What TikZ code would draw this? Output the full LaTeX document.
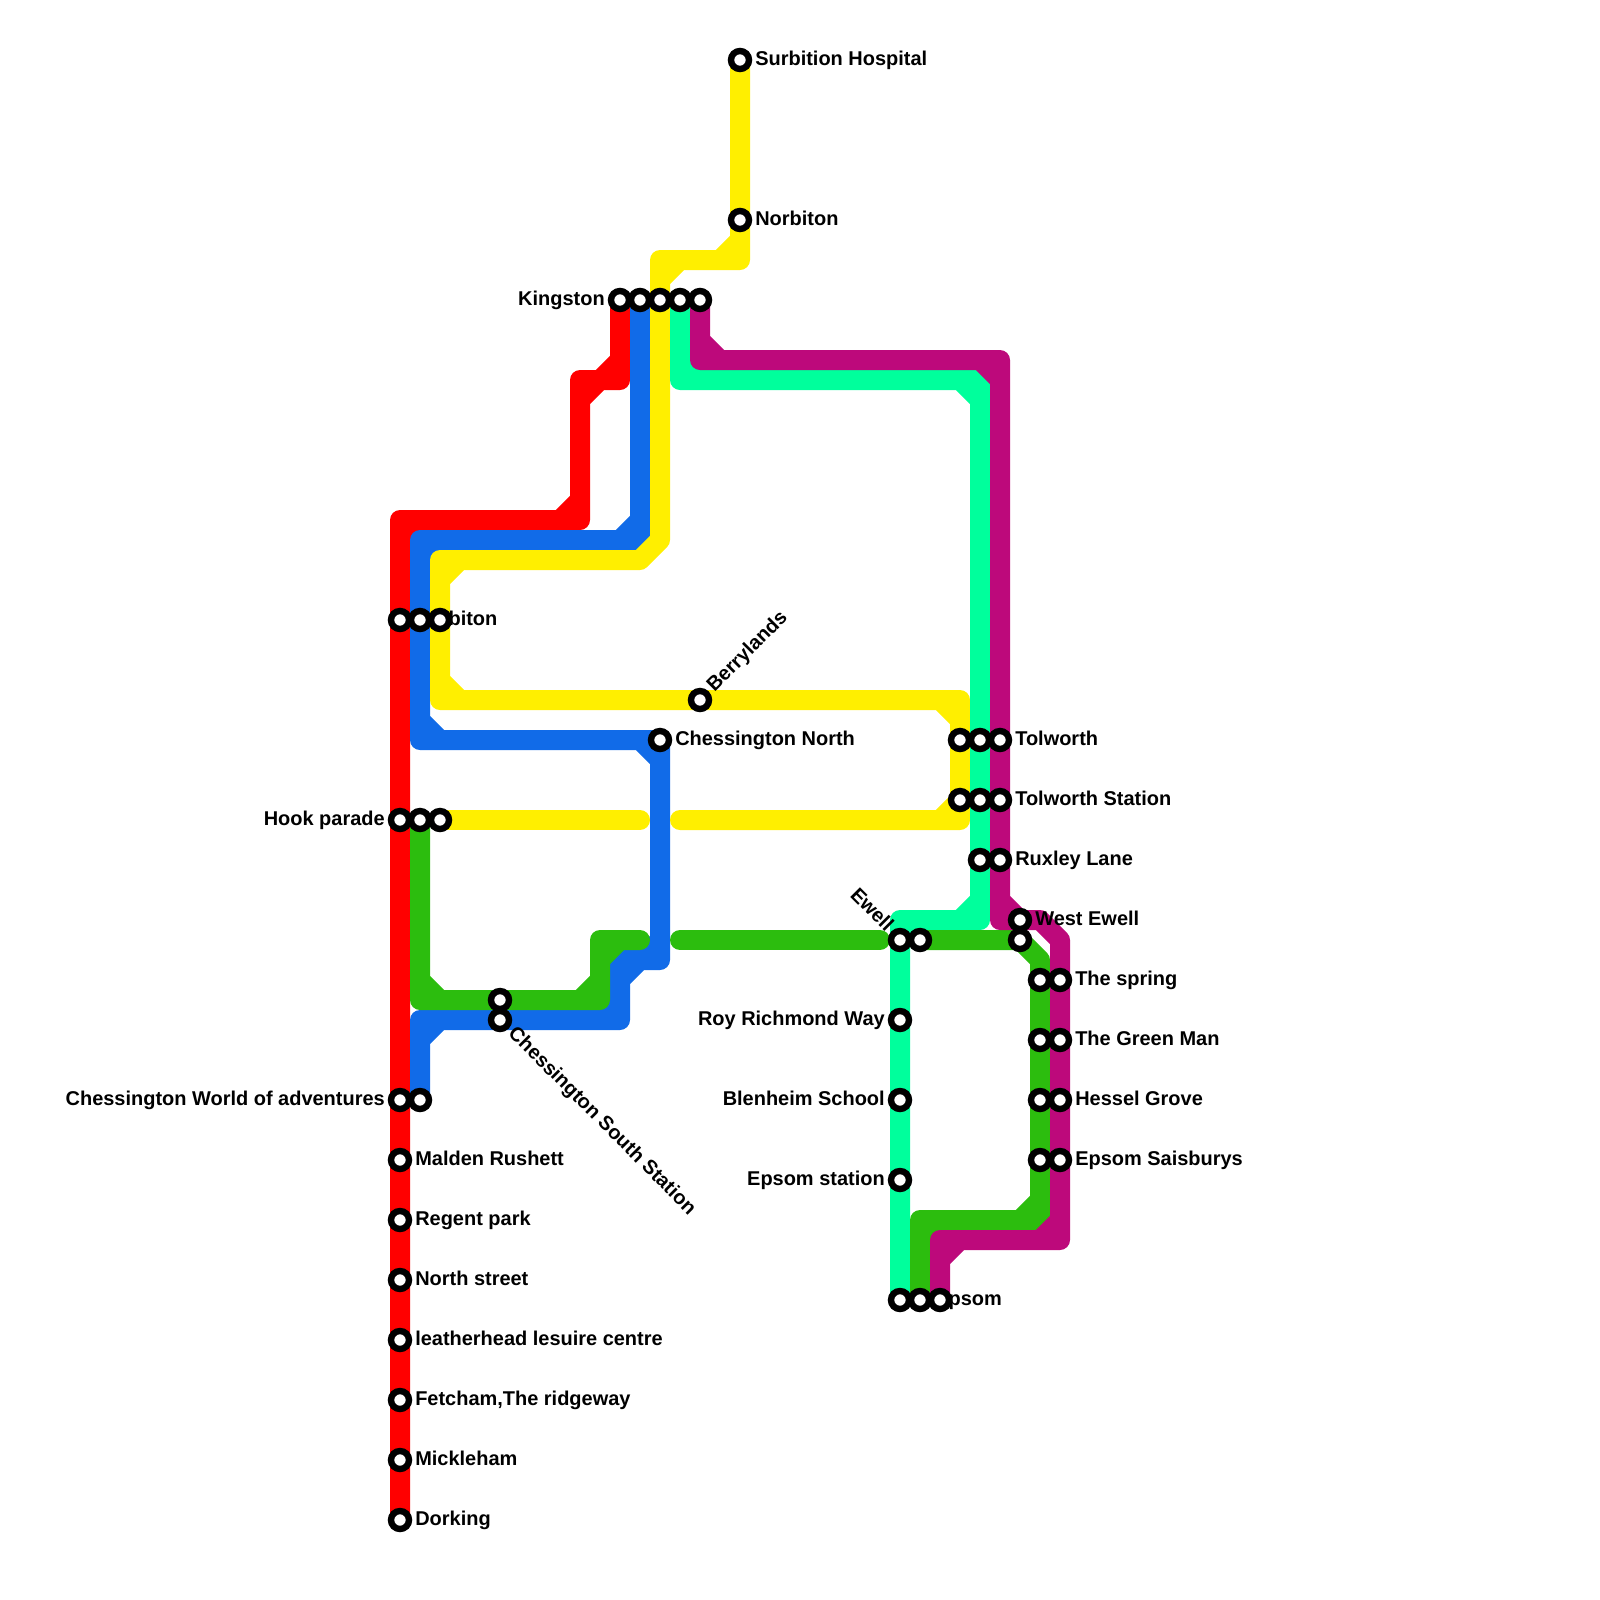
\documentclass[tikz,border=0pt]{standalone}
\usepackage{fontspec}
\setmainfont{Liberation Sans}
\usetikzlibrary{positioning}
\definecolor{redline}{RGB}{255,0,0}
\definecolor{blueline}{RGB}{17,107,232}
\definecolor{yellowline}{RGB}{255,239,0}
\definecolor{mintline}{RGB}{0,255,156}
\definecolor{greenline}{RGB}{44,189,14}
\definecolor{plumline}{RGB}{189,9,123}
\pgfdeclarelayer{lines}
\pgfdeclarelayer{labels}
\pgfsetlayers{lines,labels,main}
\tikzset{
  metro/.style={line width=0.5cm, line cap=round, line join=round},
  stn/.style={circle, draw=black, fill=white, line width=0.16cm, minimum size=0.45cm, inner sep=0pt},
  lbl/.style={font=\fontsize{14.2}{16}\selectfont\bfseries, text=black, inner sep=0pt, text height=0.425cm, text depth=0.175cm}
}
\begin{document}
\begin{tikzpicture}[x=0.5cm, y=-0.5cm]
  \useasboundingbox (0,0) rectangle (80,80);

  % Stations
  \foreach \nm/\x/\y in {
    surbHosp/37/3, norbiton/37/11,
    kingstonR/31/15, kingstonB/32/15, kingstonY/33/15, kingstonM/34/15, kingstonP/35/15,
    surbitonR/20/31, surbitonB/21/31, surbitonY/22/31,
    berrylands/35/35, chessNorth/33/37,
    tolworthY/48/37, tolworthM/49/37, tolworthP/50/37,
    tolstatY/48/40, tolstatM/49/40, tolstatP/50/40,
    hookR/20/41, hookG/21/41, hookY/22/41,
    ruxleyM/49/43, ruxleyP/50/43,
    wewellP/51/46, wewellG/51/47, ewellM/45/47, ewellG/46/47,
    springG/52/49, springP/53/49, greenmanG/52/52, greenmanP/53/52,
    southG/25/50, southB/25/51, royrich/45/51,
    worldR/20/55, worldB/21/55, blenheim/45/55, hesselG/52/55, hesselP/53/55,
    malden/20/58, saisG/52/58, saisP/53/58, epsomStat/45/59,
    regent/20/61, north/20/64,
    epsomM/45/65, epsomG/46/65, epsomP/47/65,
    leather/20/67, fetcham/20/70, mickle/20/73, dorking/20/76}{
    \node[stn] (\nm) at (\x,\y) {};
  }

  \begin{pgfonlayer}{labels}
    % Labels, right of the station
    \foreach \nm/\lab in {
      surbHosp/Surbition Hospital, norbiton/Norbiton, surbitonR/Surbiton,
      chessNorth/Chessington North, tolworthP/Tolworth, tolstatP/Tolworth Station,
      ruxleyP/Ruxley Lane, wewellP/West Ewell, springP/The spring,
      greenmanP/The Green Man, hesselP/Hessel Grove, saisP/Epsom Saisburys,
      epsomG/Epsom, malden/Malden Rushett, regent/Regent park, north/North street,
      leather/leatherhead lesuire centre, fetcham/{Fetcham,The ridgeway},
      mickle/Mickleham, dorking/Dorking}{
      \node[lbl, right=0.07cm of \nm] (\nm-lab) {\lab};
    }
    % Labels, left of the station
    \foreach \nm/\lab in {
      kingstonR/Kingston, hookR/Hook parade, worldR/Chessington World of adventures,
      royrich/Roy Richmond Way, blenheim/Blenheim School, epsomStat/Epsom station}{
      \node[lbl, left=0.07cm of \nm] (\nm-lab) {\lab};
    }
    % Slanted ones
    \node[lbl, rotate=45, anchor=west] (berrylands-lab)
      at ([shift={(0.27cm,0.27cm)}]berrylands.center) {Berrylands};
    \node[lbl, rotate=-45, anchor=west] (southB-lab)
      at ([shift={(0.27cm,-0.27cm)}]southB.center) {Chessington South Station};
    \node[lbl, rotate=-45, anchor=east] (ewellM-lab)
      at ([shift={(-0.27cm,0.27cm)}]ewellM.center) {Ewell};
  \end{pgfonlayer}

  % Free line ends
  \coordinate (yellowA) at (34,41);
  \coordinate (yellowB) at (32,41);
  \coordinate (greenA) at (32,47);
  \coordinate (greenB) at (34,47);
  \coordinate (greenC) at (44,47);

  \begin{pgfonlayer}{lines}
    % Red
    \draw[metro, redline] (kingstonR.center) -- (31,19) -- (29,19) -- (29,26) -- (20,26)
      -- (surbitonR.center) -- (hookR.center) -- (worldR.center) -- (dorking.center)
      (31,18) -- (30,19) (30,19) -- (29,20) (29,25) -- (28,26) (21,26) -- (20,27);
    % Blue
    \draw[metro, blueline] (kingstonB.center) -- (32,27) -- (21,27) -- (surbitonB.center) -- (21,37)
      -- (chessNorth.center) -- (33,48) -- (31,48) -- (31,51) -- (southB.center) -- (21,51) -- (worldB.center)
      (32,26) -- (31,27) (22,27) -- (21,28) (21,36) -- (22,37) (32,37) -- (33,38)
      (33,47) -- (32,48) (32,48) -- (31,49) (31,50) -- (30,51) (22,51) -- (21,52);
    % Yellow
    \draw[metro, yellowline] (surbHosp.center) -- (norbiton.center) -- (37,13) -- (33,13)
      -- (kingstonY.center) -- (33,27) -- (32,28) -- (22,28) -- (surbitonY.center) -- (22,35)
      -- (berrylands.center) -- (48,35) -- (tolworthY.center) -- (tolstatY.center) -- (48,41) -- (yellowA)
      (37,12) -- (36,13) (34,13) -- (33,14) (23,28) -- (22,29) (22,34) -- (23,35)
      (47,35) -- (48,36) (48,40) -- (47,41);
    \draw[metro, yellowline] (hookY.center) -- (yellowB);
    % Mint
    \draw[metro, mintline] (kingstonM.center) -- (34,19) -- (49,19) -- (tolworthM.center) -- (tolstatM.center)
      -- (ruxleyM.center) -- (49,46) -- (45,46) -- (ewellM.center) -- (royrich.center) -- (blenheim.center)
      -- (epsomStat.center) -- (epsomM.center)
      (34,18) -- (35,19) (48,19) -- (49,20) (49,45) -- (48,46) (46,46) -- (45,47);
    % Green
    \draw[metro, greenline] (hookG.center) -- (21,50) -- (southG.center) -- (30,50) -- (30,47) -- (greenA)
      (21,49) -- (22,50) (29,50) -- (30,49) (30,48) -- (31,47);
    \draw[metro, greenline] (greenB) -- (greenC);
    \draw[metro, greenline] (ewellG.center) -- (wewellG.center) -- (52,48) -- (springG.center) -- (greenmanG.center)
      -- (hesselG.center) -- (saisG.center) -- (52,61) -- (46,61) -- (epsomG.center)
      (52,60) -- (51,61) (47,61) -- (46,62);
    % Plum
    \draw[metro, plumline] (kingstonP.center) -- (35,18) -- (50,18) -- (tolworthP.center) -- (tolstatP.center)
      -- (ruxleyP.center) -- (50,46) -- (wewellP.center) -- (52,46) -- (53,47) -- (springP.center)
      -- (greenmanP.center) -- (hesselP.center) -- (saisP.center) -- (53,62) -- (47,62) -- (epsomP.center)
      (35,17) -- (36,18) (49,18) -- (50,19) (50,45) -- (51,46) (53,61) -- (52,62) (48,62) -- (47,63);
  \end{pgfonlayer}
\end{tikzpicture}
\end{document}
